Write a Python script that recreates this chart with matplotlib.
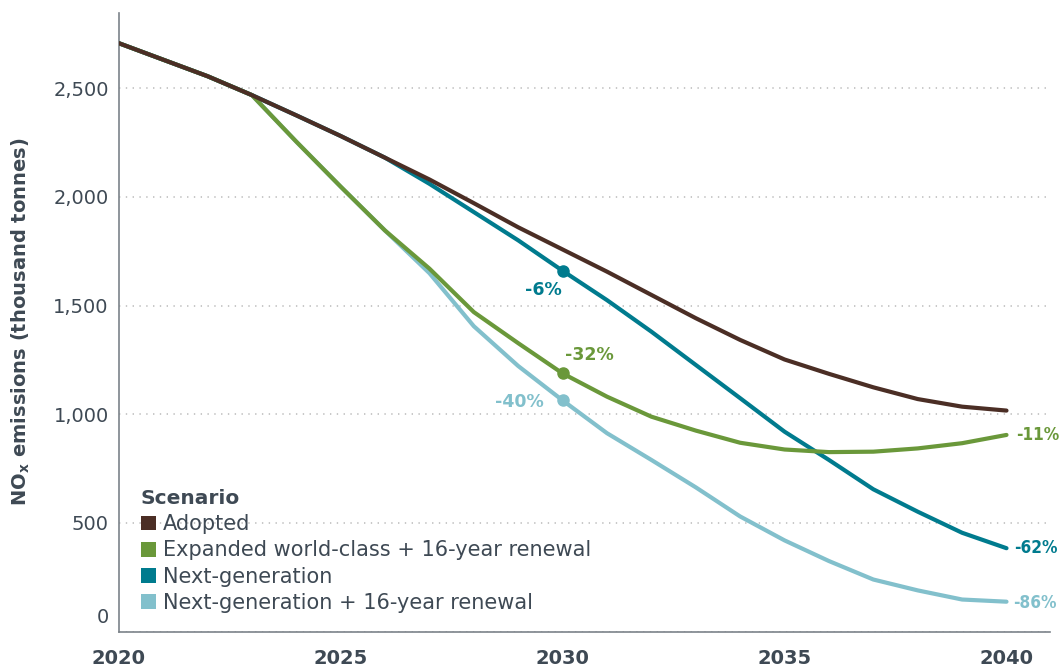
import matplotlib
matplotlib.use("Agg")
from matplotlib import pyplot as plt
from matplotlib.patches import Patch
import numpy as np

# values (thousand tonnes NOx)
years = list(range(2020, 2041))
adopted = [2707, 2631, 2555, 2468, 2375, 2280, 2180, 2080, 1971, 1860, 1758,
           1656, 1549, 1442, 1342, 1252, 1186, 1124, 1070, 1035, 1017]
expanded = [2707, 2631, 2555, 2468, 2254, 2047, 1845, 1670, 1470, 1327, 1188,
            1081, 989, 925, 869, 838, 826, 828, 843, 867, 905]
nextgen = [2707, 2631, 2555, 2468, 2375, 2280, 2180, 2060, 1930, 1800, 1660,
           1525, 1380, 1227, 1074, 920, 790, 655, 552, 455, 384]
nextgen_renew = [2707, 2631, 2555, 2468, 2254, 2047, 1845, 1649, 1405, 1222, 1064,
                 913, 790, 664, 530, 420, 325, 240, 190, 148, 138]

labels = ["Adopted", "Expanded world-class + 16-year renewal",
          "Next-generation", "Next-generation + 16-year renewal"]
colors = ["#4b2e25", "#6a983a", "#007b8e", "#82c0cc"]
series = [adopted, expanded, nextgen, nextgen_renew]

# percentage call-outs: 2030 dots and 2040 line ends
pct_2030 = [None, "-32%", "-6%", "-40%"]
pct_2040 = [None, "-11%", "-62%", "-86%"]

text_col = "#3e4954"
plt.rcParams['font.family'] = ['DejaVu Sans']

fig = plt.figure(figsize=(10.62, 6.66), dpi=100)
ax = fig.add_axes([118.7 / 1062, 1 - 631.7 / 666, 931.3 / 1062, 619.0 / 666])

zorders = [5, 4, 3, 2]
for vals, col, lab, z in zip(series, colors, labels, zorders):
    ax.plot(years, vals, color=col, lw=3, label=lab, zorder=z,
            solid_capstyle="round", solid_joinstyle="round")

i30 = years.index(2030)
px = 72 / 100  # points per pixel
offs_2030 = {"-32%": ((2, 18), "left"), "-6%": ((-1, -19), "right"), "-40%": ((-19, -2), "right")}
for vals, col, p, z in zip(series, colors, pct_2030, zorders):
    if p is None:
        continue
    ax.plot(years[i30], vals[i30], "o", color=col, ms=8, zorder=z + 0.5)
    (dx, dy), ha = offs_2030[p]
    ax.annotate(p, (years[i30], vals[i30]), xytext=(dx * px, dy * px),
                textcoords="offset points", ha=ha, va="center",
                color=col, fontsize=12.5, fontweight="bold")

offs_2040 = {"-11%": (10, 0), "-62%": (8, 0), "-86%": (7, -1)}
for vals, col, p in zip(series, colors, pct_2040):
    if p is None:
        continue
    dx, dy = offs_2040[p]
    ax.annotate(p, (years[-1], vals[-1]), xytext=(dx * px, dy * px),
                textcoords="offset points", ha="left", va="center",
                color=col, fontsize=12.3, fontweight="bold", fontstretch="condensed",
                annotation_clip=False)

ax.set_xlim(2020, 2040.98)
ax.set_ylim(0, 2847)
ax.set_xticks([2020, 2025, 2030, 2035, 2040])
ax.set_yticks([0, 500, 1000, 1500, 2000, 2500])
ax.set_yticklabels(["", "500", "1,000", "1,500", "2,000", "2,500"])
ax.tick_params(axis="y", length=0, pad=10 * px, labelsize=14, labelcolor=text_col)
ax.tick_params(axis="x", length=0, pad=17 * px, labelsize=14, labelcolor=text_col)
for t in ax.get_xticklabels():
    t.set_fontweight("bold")

# the zero label sits a little above the axis line
ax.annotate("0", (0, 0), xycoords=ax.get_yaxis_transform(), xytext=(-10 * px, 14 * px),
            textcoords="offset points", ha="right", va="center", fontsize=14, color=text_col)

ax.grid(axis="y", color="#c8c8c8", lw=1.4, linestyle=(0, (0.7, 2.8)))
ax.set_axisbelow(True)
for s in ["top", "right"]:
    ax.spines[s].set_visible(False)
for s in ["left", "bottom"]:
    ax.spines[s].set_color("#7c838a")
    ax.spines[s].set_linewidth(1.2)

ax.set_ylabel(r"NO$_\mathregular{x}$ emissions (thousand tonnes)", fontsize=14,
              fontweight="bold", color=text_col)
ax.yaxis.set_label_coords(-0.093, 0.5)

handles = [Patch(facecolor=c, edgecolor="none") for c in colors]
leg = ax.legend(handles, labels, title="Scenario", loc="upper left",
                bbox_to_anchor=(141 / 1062, 1 - 489 / 666), bbox_transform=fig.transFigure,
                frameon=False, fontsize=15, handlelength=0.7, handleheight=0.7,
                handletextpad=0.35, labelspacing=0.3, borderpad=0, borderaxespad=0,
                alignment="left", title_fontproperties={"weight": "bold", "size": 14.5})
for t in leg.get_texts():
    t.set_color(text_col)
leg.get_title().set_color(text_col)

plt.savefig("out.png", dpi=100)
